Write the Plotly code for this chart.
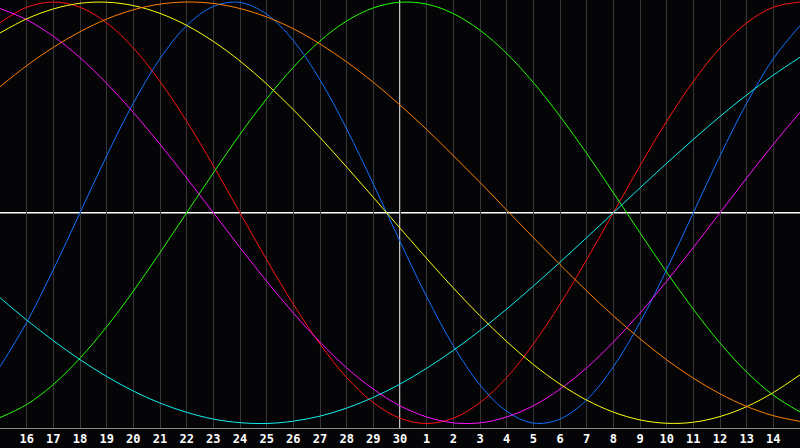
import plotly.graph_objects as go

# Day positions (0 = the 15th of the previous month, 15 = the 30th / today, 30 = the 15th)
positions = list(range(31))
tick_positions = list(range(1, 30))
tick_labels = [str(d) for d in range(16, 31)] + [str(d) for d in range(1, 15)]

# Cycle values, one per day (-1 .. 1)
red_vals = [0.901, 0.975, 1.000, 0.975, 0.901, 0.782, 0.623, 0.434, 0.223, 0.000,
            -0.223, -0.434, -0.623, -0.782, -0.901, -0.975, -1.000, -0.975, -0.901, -0.782,
            -0.623, -0.434, -0.223, 0.000, 0.223, 0.434, 0.623, 0.782, 0.901, 0.975, 1.000]
green_vals = [-0.972, -0.910, -0.815, -0.690, -0.541, -0.372, -0.189, 0.000, 0.189, 0.372,
              0.541, 0.690, 0.815, 0.910, 0.972, 0.999, 0.990, 0.945, 0.866, 0.756,
              0.618, 0.458, 0.282, 0.095, -0.095, -0.282, -0.458, -0.618, -0.756, -0.866, -0.945]
blue_vals = [-0.731, -0.520, -0.270, 0.000, 0.270, 0.520, 0.731, 0.888, 0.979, 0.998,
             0.942, 0.817, 0.631, 0.398, 0.136, -0.136, -0.398, -0.631, -0.817, -0.942,
             -0.998, -0.979, -0.888, -0.731, -0.520, -0.270, 0.000, 0.270, 0.520, 0.731, 0.888]
cyan_vals = [-0.403, -0.509, -0.607, -0.697, -0.777, -0.846, -0.903, -0.947, -0.979, -0.996,
             -1.000, -0.989, -0.965, -0.927, -0.876, -0.813, -0.738, -0.653, -0.559, -0.457,
             -0.348, -0.235, -0.118, 0.000, 0.118, 0.235, 0.348, 0.457, 0.559, 0.653, 0.738]
magenta_vals = [0.969, 0.916, 0.837, 0.736, 0.614, 0.476, 0.325, 0.165, 0.000, -0.165,
                -0.325, -0.476, -0.614, -0.736, -0.837, -0.916, -0.969, -0.997, -0.997, -0.969,
                -0.916, -0.837, -0.736, -0.614, -0.476, -0.325, -0.165, 0.000, 0.165, 0.325, 0.476]
yellow_vals = [0.853, 0.920, 0.967, 0.994, 0.999, 0.983, 0.946, 0.889, 0.813, 0.720,
               0.611, 0.489, 0.357, 0.217, 0.073, -0.073, -0.217, -0.357, -0.489, -0.611,
               -0.720, -0.813, -0.889, -0.946, -0.983, -0.999, -0.994, -0.967, -0.920, -0.853, -0.769]
orange_vals = [0.598, 0.698, 0.785, 0.859, 0.919, 0.963, 0.990, 1.000, 0.993, 0.969,
               0.929, 0.873, 0.801, 0.716, 0.619, 0.511, 0.395, 0.271, 0.144, 0.013,
               -0.118, -0.246, -0.371, -0.489, -0.598, -0.698, -0.785, -0.859, -0.919, -0.963, -0.990]

series = [
    (red_vals, "#ff1010"),
    (green_vals, "#22ff00"),
    (blue_vals, "#1070ff"),
    (cyan_vals, "#10f0f0"),
    (magenta_vals, "#ff10ff"),
    (yellow_vals, "#ffff10"),
    (orange_vals, "#ff8000"),
]

fig = go.Figure()
for vals, col in series:
    fig.add_trace(go.Scatter(
        x=positions, y=vals, mode="lines",
        line=dict(color=col, width=1, shape="spline"),
        hoverinfo="skip", showlegend=False,
    ))

bg = "#050508"
fig.update_layout(
    width=800, height=448,
    margin=dict(l=0, r=0, t=0, b=20),
    paper_bgcolor=bg, plot_bgcolor=bg,
    showlegend=False,
    xaxis=dict(
        range=[0, 30], tickmode="array", tickvals=tick_positions, ticktext=tick_labels,
        showgrid=True, gridcolor="#363636", gridwidth=1, zeroline=False,
        showline=True, linecolor="#8a8a8a", linewidth=1, mirror=True,
        ticks="", tickfont=dict(family="DejaVu Sans Mono", size=12, color="white", weight="bold"),
        fixedrange=True, automargin=False,
    ),
    yaxis=dict(
        range=[-1.0214, 1.0095], showgrid=False, zeroline=False, showticklabels=False,
        showline=True, linecolor="#8a8a8a", linewidth=1, ticks="", fixedrange=True,
        automargin=False,
    ),
    shapes=[
        dict(type="line", xref="x", yref="paper", x0=15, x1=15, y0=0, y1=1,
             line=dict(color="white", width=1.5), layer="below"),
        dict(type="line", xref="paper", yref="y", x0=0, x1=1, y0=0, y1=0,
             line=dict(color="white", width=1.5), layer="below"),
    ],
)

fig.write_html(
    "out.html",
    config={"displayModeBar": False, "staticPlot": True},
    post_script="document.body.style.margin='0';document.body.style.background='#050508';",
)
